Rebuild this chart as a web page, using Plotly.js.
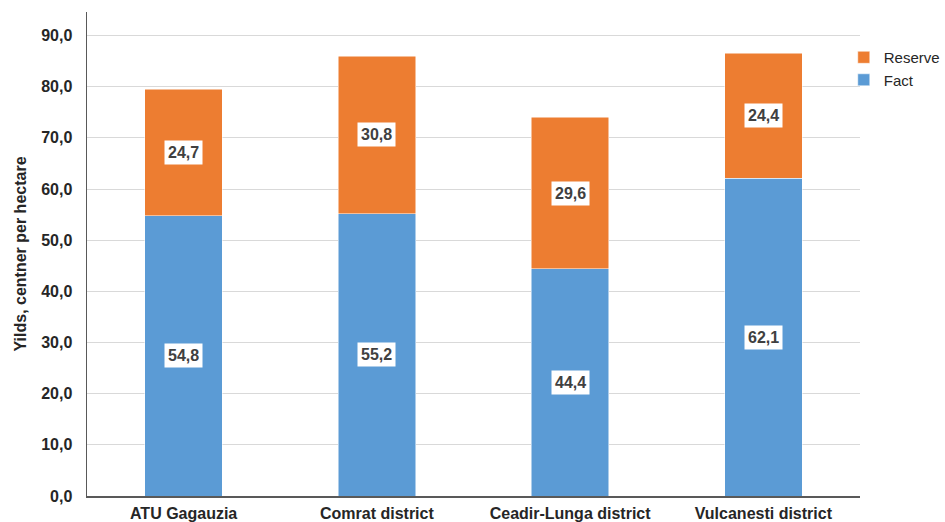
<!DOCTYPE html>
<html>
<head>
<meta charset="utf-8">
<script src="https://cdn.plot.ly/plotly-3.0.1.min.js"></script>
<style>html,body{margin:0;padding:0;background:#fff;}#chart{width:945px;height:522px;}</style>
</head>
<body>
<div id="chart"></div>
<script>
var categories = ["ATU Gagauzia", "Comrat district", "Ceadir-Lunga district", "Vulcanesti district"];
var factValues = [54.8, 55.2, 44.4, 62.1];
var reserveValues = [24.7, 30.8, 29.6, 24.4];
var yTickValues = [0, 10, 20, 30, 40, 50, 60, 70, 80, 90];

function fmt(v) { return v.toFixed(1).replace('.', ','); }

var font = "Liberation Sans, Arial, sans-serif";

var traces = [
  {
    type: 'bar', name: 'Fact', x: categories, y: factValues,
    marker: {color: '#5B9BD5', line: {color: '#ffffff', width: 0.5}},
    hoverinfo: 'none'
  },
  {
    type: 'bar', name: 'Reserve', x: categories, y: reserveValues,
    marker: {color: '#ED7D31', line: {color: '#ffffff', width: 0.5}},
    hoverinfo: 'none'
  }
];

var annotations = [];
categories.forEach(function (c, i) {
  annotations.push({
    x: c, y: factValues[i] / 2, xref: 'x', yref: 'y',
    text: '<b>' + fmt(factValues[i]) + '</b>', showarrow: false,
    font: {family: font, size: 16, color: '#404040'},
    bgcolor: '#ffffff', borderpad: 3
  });
  annotations.push({
    x: c, y: factValues[i] + reserveValues[i] / 2, xref: 'x', yref: 'y',
    text: '<b>' + fmt(reserveValues[i]) + '</b>', showarrow: false,
    font: {family: font, size: 16, color: '#404040'},
    bgcolor: '#ffffff', borderpad: 3
  });
});

var layout = {
  width: 945, height: 522,
  margin: {l: 87, r: 85, t: 12, b: 26, pad: 0, autoexpand: false},
  paper_bgcolor: '#ffffff', plot_bgcolor: '#ffffff',
  barmode: 'stack', bargap: 0.6,
  separators: ',.',
  showlegend: true,
  legend: {
    x: 0.979, xanchor: 'left', y: 0.94, yanchor: 'top',
    traceorder: 'reversed',
    font: {family: font, size: 15, color: '#262626'},
    itemwidth: 30, tracegroupgap: 0, bgcolor: 'rgba(0,0,0,0)'
  },
  xaxis: {
    type: 'category',
    showline: true, linecolor: '#595959', linewidth: 1.5,
    showgrid: false, ticks: '',
    ticklabelstandoff: 2,
    tickfont: {family: font, size: 16, color: '#262626', weight: 'bold'},
    fixedrange: true
  },
  yaxis: {
    range: [0, 94.6],
    tickvals: yTickValues,
    ticktext: yTickValues.map(fmt),
    showline: true, linecolor: '#595959', linewidth: 1.5,
    showgrid: true, gridcolor: '#d9d9d9', gridwidth: 1,
    zeroline: false, ticks: '',
    ticklabelstandoff: 10,
    tickfont: {family: font, size: 16, color: '#262626', weight: 'bold'},
    title: {text: '<b>Yilds, centner per hectare</b>', standoff: 10,
      font: {family: font, size: 16, color: '#262626'}},
    fixedrange: true
  },
  annotations: annotations
};

Plotly.newPlot('chart', traces, layout, {displayModeBar: false, staticPlot: true});
</script>
</body>
</html>
